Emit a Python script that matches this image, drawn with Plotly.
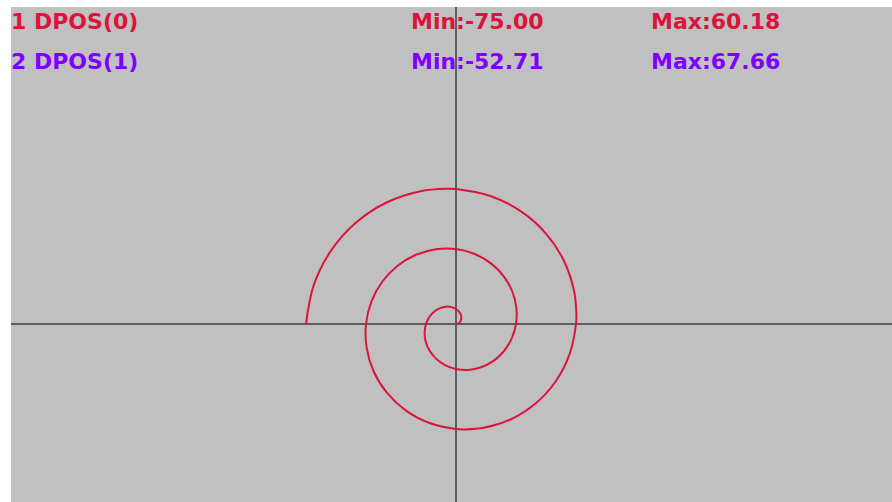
import plotly.graph_objects as go

# Axis positions recorded for the spiral move (units)
DPOS0 = [
    0, 1.21, 2.17, 2.65, 2.5, 1.62, 0, -2.26, -5, -7.95, -10.83, -13.28,
    -15, -15.70, -15.16, -13.26, -10, -5.50, 0, 6.15, 12.5, 18.56, 23.82, 27.77,
    30, 30.19, 28.15, 23.86, 17.5, 9.38, 0, -10.03, -20, -29.17, -36.81, -42.26,
    -45, -44.67, -41.14, -34.47, -25, -13.26, 0, 4.81, 13.91, 27.5, 39.77, 49.80, 56.75,
    60, 60.18, 59.16, 54.13, 45.08, 32.5, 17.15, 0, -4.79, -17.79, -35, -50.38, -62.79, -71.24,
    -75,
]
DPOS1 = [
    0, 0.32, 1.25, 2.65, 4.33, 6.04, 7.5, 8.45, 8.66, 7.95, 6.25, 3.56,
    0, -4.21, -8.75, -13.26, -17.32, -20.53, -22.5, -22.94, -21.65, -18.56, -13.75, -7.44,
    0, 8.09, 16.25, 23.86, 30.31, 35.01, 37.5, 37.43, 34.64, 29.17, 21.25, 11.32,
    0, -11.97, -23.75, -34.47, -43.30, -49.50, -52.5, -52.71, -51.92, -47.63, -39.77, -28.75, -15.21,
    0, 4.80, 15.85, 31.25, 45.08, 56.29, 63.99, 67.5, 67.66, 66.41, 60.62, 50.38, 36.25, 19.09,
    0,
]
CHANNELS = ["1 DPOS(0)", "2 DPOS(1)"]
CHANNEL_COLORS = ["#DC143C", "#8000FF"]

fig = go.Figure()
fig.add_trace(go.Scatter(
    x=DPOS0, y=DPOS1, mode="lines",
    line=dict(color="#DC143C", width=2, shape="spline", smoothing=1.0),
    hoverinfo="skip", showlegend=False,
))

font = dict(family="DejaVu Sans", size=22)
rows_y = [0.9717, 0.8909]
for name, series, color, ypos in zip(CHANNELS, [DPOS0, DPOS1], CHANNEL_COLORS, rows_y):
    for text, xpos in [
        (name, -0.002),
        (f"Min:{min(series):.2f}", 0.4517),
        (f"Max:{max(series):.2f}", 0.7242),
    ]:
        fig.add_annotation(
            x=xpos, y=ypos, xref="paper", yref="paper",
            xanchor="left", yanchor="middle", showarrow=False,
            text=f"<b>{text}</b>", font=dict(color=color, **font),
        )

axis_common = dict(
    showgrid=False, showticklabels=False, ticks="", showline=False,
    zeroline=True, zerolinecolor="#5E5E5E", zerolinewidth=2,
    fixedrange=True,
)
fig.update_xaxes(range=[-222.5, 218], **axis_common)
fig.update_yaxes(range=[-89, 158.5], **axis_common)

fig.update_layout(
    width=892, height=502,
    margin=dict(l=11, r=0, t=7, b=0),
    paper_bgcolor="white", plot_bgcolor="#C0C0C0",
)

fig.write_html("out.html")
